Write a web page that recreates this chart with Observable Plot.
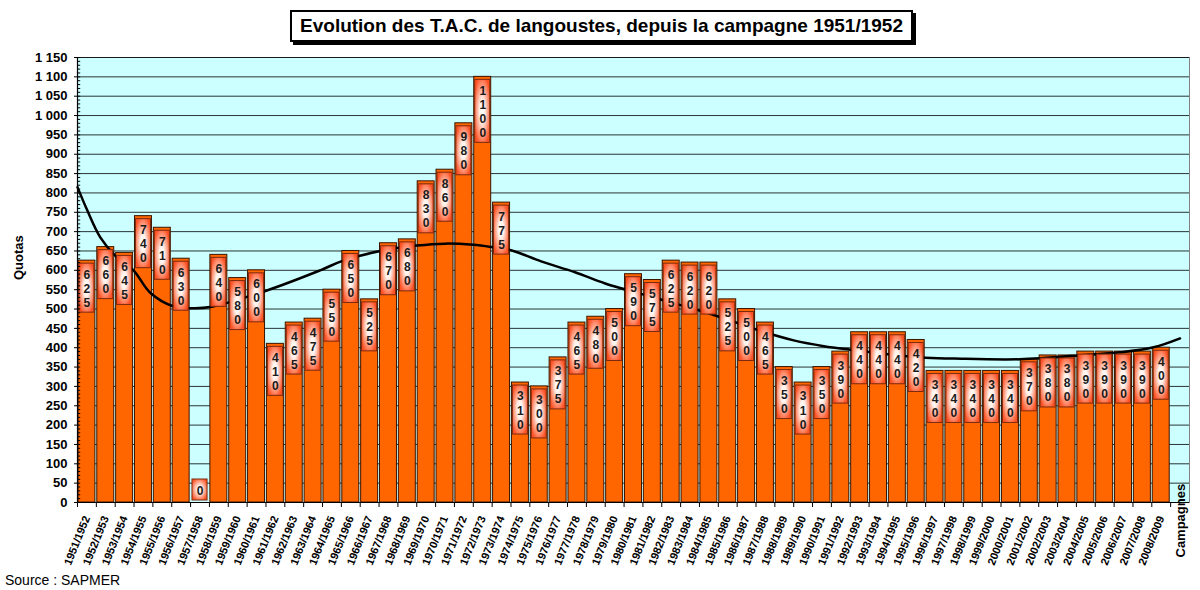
<!DOCTYPE html>
<html>
<head>
<meta charset="utf-8">
<script src="https://cdn.jsdelivr.net/npm/d3@7"></script>
<script src="https://cdn.jsdelivr.net/npm/@observablehq/plot@0.6"></script>
<style>
  body { margin: 0; background: #fff; font-family: Arial, "Liberation Sans", sans-serif; }
  #page { position: relative; width: 1200px; height: 590px; overflow: hidden; }
  #titlebar { height: 48px; position: relative; }
  #title {
    position: absolute; left: 290px; top: 10px; width: 619px; height: 28px;
    border: 2px solid #000; box-shadow: 3px 3px 0 #000; background: #fff;
    text-align: center; line-height: 28px; font-weight: bold; font-size: 19px; white-space: nowrap;
  }
  #chart svg { display: block; }
  #source { height: 22px; line-height: 24px; padding-left: 5px; font-size: 14px; font-family: Arial, "Liberation Sans", sans-serif; }
</style>
</head>
<body>
<div id="page">
  <div id="titlebar"><div id="title">Evolution des T.A.C. de langoustes, depuis la campagne 1951/1952</div></div>
  <div id="chart"></div>
  <div id="source">Source : SAPMER</div>
</div>
<script>
// ---- Data ----
const campaigns = [
  "1951/1952","1952/1953","1953/1954","1954/1955","1955/1956","1956/1957","1957/1958","1958/1959",
  "1959/1960","1960/1961","1961/1962","1962/1963","1963/1964","1964/1965","1965/1966","1966/1967",
  "1967/1968","1968/1969","1969/1970","1970/1971","1971/1972","1972/1973","1973/1974","1974/1975",
  "1975/1976","1976/1977","1977/1978","1978/1979","1979/1980","1980/1981","1981/1982","1982/1983",
  "1983/1984","1984/1985","1985/1986","1986/1987","1987/1988","1988/1989","1989/1990","1990/1991",
  "1991/1992","1992/1993","1993/1994","1994/1995","1995/1996","1996/1997","1997/1998","1998/1999",
  "1999/2000","2000/2001","2001/2002","2002/2003","2003/2004","2004/2005","2005/2006","2006/2007",
  "2007/2008","2008/2009"
];
const quotas = [
  625, 660, 645, 740, 710, 630, 0, 640,
  580, 600, 410, 465, 475, 550, 650, 525,
  670, 680, 830, 860, 980, 1100, 775, 310,
  300, 375, 465, 480, 500, 590, 575, 625,
  620, 620, 525, 500, 465, 350, 310, 350,
  390, 440, 440, 440, 420, 340, 340, 340,
  340, 340, 370, 380, 380, 390, 390, 390,
  390, 400
];
// polynomial trend line (position in campaign units, quota)
const trendPos = [0, 0.5, 1.2, 2.0, 2.97, 3.86, 5.08, 6.14, 7.04, 10.05, 12.88, 14.1, 16.2, 18.0, 19.5, 21.0, 22.0, 23.0, 24.6, 26.4, 28.0, 31.0, 33.8, 36.2, 38.0, 39.6, 41.0, 44.7, 46.5, 50.0, 53.6, 55.3, 57.1, 58.5];
const trendVal = [815, 757, 686, 638, 600, 542, 507, 502, 505, 548, 600, 625, 651, 664, 669, 666, 660, 652, 623, 595, 566, 524, 484, 444, 419, 404, 395, 375, 372, 370, 382, 388, 401, 424];
const yTicks = [0,50,100,150,200,250,300,350,400,450,500,550,600,650,700,750,800,850,900,950,1000,1050,1100,1150];
const yMinor = d3.range(0, 1151, 10);
const yLabel = "Quotas";
const xLabel = "Campagnes";

// ---- Tables ----
const nCat = campaigns.length + 1; // one empty slot at the right, as in the original
const H = 445, yMax = 1150;
const ppu = H / yMax; // pixels per quota unit
const bars = campaigns.map((c, i) => ({ i, c, v: quotas[i] }));
const boxes = bars.map(d => {
  const s = String(d.v);
  const h = (s.length * 14 + 7) / ppu;
  let top = d.v - 3 / ppu, bot = top - h;
  if (bot < 0) { bot = 2 / ppu; top = bot + h; }
  return { ...d, top, bot, mid: (top + bot) / 2, txt: s.split("").join("\n") };
});
const trend = trendPos.map((p, k) => ({ p, v: trendVal[k] }));
const fmt = d3.formatLocale({ thousands: "\u00a0", grouping: [3], decimal: "," }).format(",");

const chart = Plot.plot({
  width: 1200, height: 520,
  marginTop: 9, marginBottom: 66, marginLeft: 77, marginRight: 11,
  style: { fontFamily: "Arial, 'Liberation Sans', sans-serif", background: "transparent", overflow: "visible" },
  x: { type: "linear", domain: [0, nCat] },
  y: { domain: [0, yMax] },
  marks: [
    Plot.frame({ fill: "#ccffff", stroke: "#808080" }),
    Plot.gridY(yTicks, { stroke: "#000", strokeOpacity: 0.8, strokeWidth: 1 }),
    Plot.rect(bars.filter(d => d.v > 0), {
      x1: d => d.i + 0.05, x2: d => d.i + 0.95, y1: 0, y2: "v",
      fill: "#ff6600", stroke: "#3a1500", strokeWidth: 1
    }),
    Plot.line(trend, { x: "p", y: "v", curve: "catmull-rom", stroke: "#000", strokeWidth: 2.5 }),
    Plot.rect(boxes, {
      x1: d => d.i + 0.1, x2: d => d.i + 0.9, y1: "bot", y2: "top",
      fill: "url(#lblgrad)", stroke: "#7a2a10", strokeWidth: 1
    }),
    Plot.text(boxes, {
      x: d => d.i + 0.5, y: "mid", text: "txt", lineHeight: 1.17,
      fontSize: 12, fontWeight: "bold", fill: "#1a1a1a"
    }),
    // axis lines
    Plot.ruleX([0], { stroke: "#000", strokeWidth: 1.2 }),
    Plot.ruleY([0], { stroke: "#000", strokeWidth: 1.2 }),
    // minor ticks on the y axis (inside)
    Plot.ruleY(yMinor, { x1: 0, x2: 0.17, stroke: "#000", strokeWidth: 1 }),
    Plot.axisY(yTicks, {
      tickSize: 3, tickPadding: 7, tickFormat: fmt,
      fontSize: 13, fontWeight: "bold", label: null
    }),
    Plot.axisX(d3.range(0, nCat), { tickSize: 5, tickFormat: () => "", label: null }),
    Plot.text(bars, {
      x: d => d.i + 0.5, y: 0, text: "c", rotate: -68, textAnchor: "end",
      lineAnchor: "middle", dy: 14, dx: 0, fontSize: 11, fontWeight: "bold", fill: "#000"
    }),
    Plot.text([yLabel], {
      frameAnchor: "left", rotate: -90, dx: -59, fontSize: 13, fontWeight: "bold", fill: "#000"
    }),
    Plot.text([xLabel], {
      x: nCat, y: 0, rotate: -90, textAnchor: "start", lineAnchor: "middle",
      dx: -9, dy: 55, fontSize: 13, fontWeight: "bold", fill: "#000"
    })
  ]
});

// gradient for the value-label boxes
d3.select(chart).insert("defs", ":first-child").html(
  `<radialGradient id="lblgrad" cx="0.5" cy="0.5" r="0.58" gradientUnits="objectBoundingBox">
     <stop offset="0%" stop-color="#ffffff"/>
     <stop offset="30%" stop-color="#fff2ec"/>
     <stop offset="100%" stop-color="#ff5224"/>
   </radialGradient>`
);
document.getElementById("chart").appendChild(chart);
</script>
</body>
</html>
